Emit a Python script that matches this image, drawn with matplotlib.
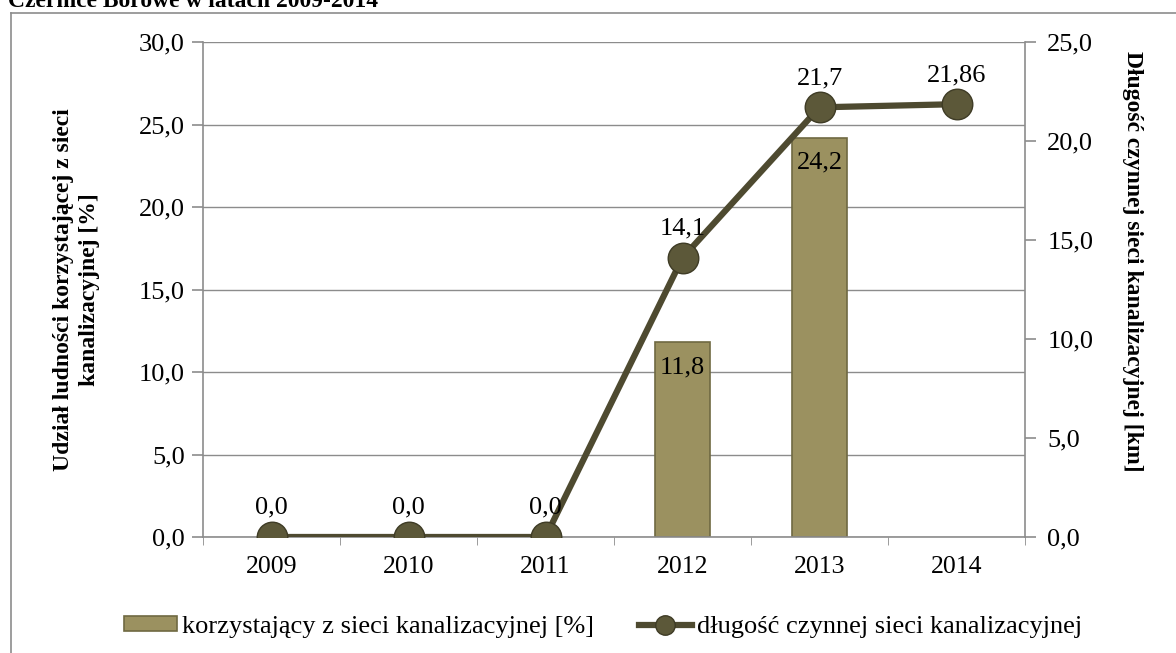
import matplotlib
matplotlib.use("Agg")
import matplotlib.pyplot as plt
import numpy as np
from matplotlib.lines import Line2D
from matplotlib.patches import Patch

plt.rcParams['font.family'] = ['Liberation Serif', 'DejaVu Serif']

# dane
years = ['2009', '2010', '2011', '2012', '2013', '2014']
share_pct = [0.0, 0.0, 0.0, 11.8, 24.2, 0.0]
share_labels = ['', '', '', '11,8', '24,2', '']
length_km = [0.0, 0.0, 0.0, 14.1, 21.7, 21.86]
length_labels = ['0,0', '0,0', '0,0', '14,1', '21,7', '21,86']
left_ticks = [0, 5, 10, 15, 20, 25, 30]
right_ticks = [0, 5, 10, 15, 20, 25]

bar_color = '#9b9160'
bar_edge = '#6f6942'
line_color = '#4e4a30'
marker_color = '#5c5839'
grey = '#8c8c8c'
fs = 19

fig = plt.figure(figsize=(11.76, 6.53), dpi=100)
ax = fig.add_axes([203 / 1176, 1 - 537 / 653, 822 / 1176, 495 / 653])
ax2 = ax.twinx()

x = np.arange(len(years))

bars = ax.bar(x, share_pct, width=0.40, color=bar_color, edgecolor=bar_edge,
              linewidth=[1.2 if v > 0 else 0 for v in share_pct], zorder=2)
for rect, lab in zip(bars, share_labels):
    if lab:
        ax.annotate(lab, (rect.get_x() + rect.get_width() / 2, rect.get_height()),
                    xytext=(0, -10), textcoords='offset points', ha='center', va='top',
                    fontsize=fs, zorder=3)

ax.set_xlim(-0.5, len(years) - 0.5)
ax.set_ylim(0, 30)
ax.set_yticks(left_ticks)
ax.set_yticklabels([f'{v:.1f}'.replace('.', ',') for v in left_ticks])
ax.yaxis.grid(True, color=grey, linewidth=1.0)
ax.set_axisbelow(True)
ax.set_xticks(x)
ax.set_xticklabels(years)
ax.set_xticks(np.arange(-0.5, len(years), 1), minor=True)
ax.tick_params(axis='x', which='major', length=0, pad=14, labelsize=18.5)
ax.tick_params(axis='x', which='minor', length=6, color=grey, direction='out')
ax.tick_params(axis='y', length=8, color=grey, width=1.2, labelsize=fs, pad=5)

for s in ['top', 'right']:
    ax.spines[s].set_visible(False)
ax.spines['left'].set_color(grey)
ax.spines['left'].set_linewidth(1.2)
ax.spines['bottom'].set_color(grey)
ax.spines['bottom'].set_linewidth(1.2)

ax.set_ylabel('Udział ludności korzystającej z sieci\nkanalizacyjnej [%]',
              fontsize=17, fontweight='bold', linespacing=1.3)
ax.yaxis.set_label_coords(-0.125, 0.5)

ax2.plot(x, length_km, color=line_color, linewidth=4.5, marker='o', markersize=22,
         markerfacecolor=marker_color, markeredgecolor='#3e3b25', markeredgewidth=1,
         zorder=4)
for xi, yi, lab in zip(x, length_km, length_labels):
    ax2.annotate(lab, (xi, yi), xytext=(0, 13), textcoords='offset points',
                 ha='center', va='bottom', fontsize=fs, zorder=5)

ax2.set_ylim(0, 25)
ax2.set_yticks(right_ticks)
ax2.set_yticklabels([f'{v:.1f}'.replace('.', ',') for v in right_ticks])
ax2.tick_params(axis='y', length=8, color=grey, width=1.2, labelsize=fs, pad=8)
for s in ['top', 'left', 'bottom']:
    ax2.spines[s].set_visible(False)
ax2.spines['right'].set_color(grey)
ax2.spines['right'].set_linewidth(1.2)
ax2.set_ylabel('Długość czynnej sieci kanalizacyjnej [km]', fontsize=17,
               fontweight='bold', rotation=-90, va='bottom')
ax2.yaxis.set_label_coords(1.118, 0.557)

handles = [
    Patch(facecolor=bar_color, edgecolor=bar_edge, linewidth=1.2),
    Line2D([0], [0], color=line_color, linewidth=4.5, marker='o', markersize=14,
           markerfacecolor=marker_color, markeredgecolor='#3e3b25'),
]
fig.legend(handles, ['korzystający z sieci kanalizacyjnej [%]',
                     'długość czynnej sieci kanalizacyjnej'],
           loc='center', bbox_to_anchor=(603 / 1176, 1 - 627 / 653), ncol=2,
           frameon=False, fontsize=fs, handlelength=2.0, handleheight=0.5,
           handletextpad=0.2, columnspacing=1.7, numpoints=1)

# ramka wykresu i obcięty tytuł
fig.add_artist(Line2D([11 / 1176, 11 / 1176], [0, 1 - 13 / 653], color=grey,
                      linewidth=1.2, transform=fig.transFigure))
fig.add_artist(Line2D([11 / 1176, 1], [1 - 13 / 653, 1 - 13 / 653], color=grey,
                      linewidth=1.2, transform=fig.transFigure))
fig.text(8 / 1176, 1 - 7 / 653, 'Czernice Borowe w latach 2009-2014',
         fontsize=17, fontweight='bold', va='baseline', ha='left')

fig.savefig('out.png', dpi=100)
